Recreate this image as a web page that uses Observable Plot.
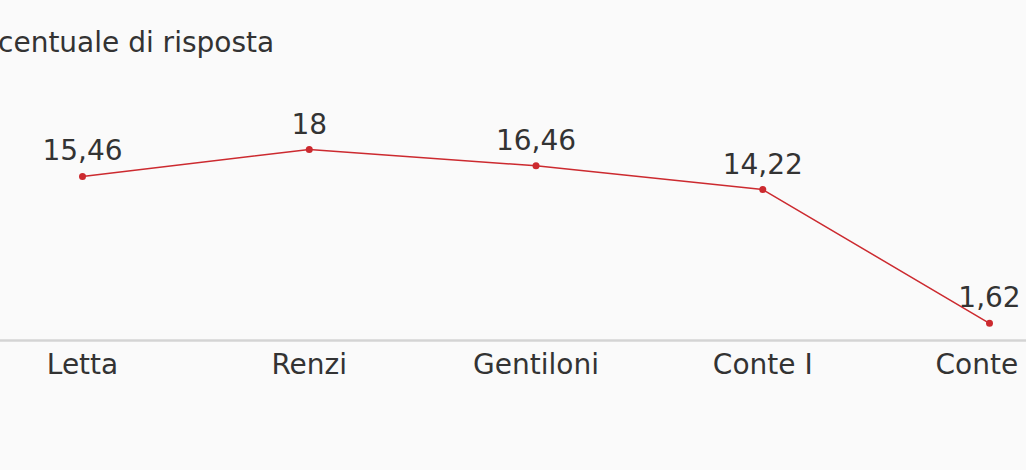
<!DOCTYPE html>
<html>
<head>
<meta charset="utf-8">
<script src="https://cdn.jsdelivr.net/npm/d3@7"></script>
<script src="https://cdn.jsdelivr.net/npm/@observablehq/plot@0.6"></script>
<style>
  html, body { margin: 0; padding: 0; background: #fafafa; overflow: hidden; }
  #wrap { width: 1026px; overflow: hidden; font-family: "DejaVu Sans", sans-serif; color: #333; }
  #title { height: 70px; box-sizing: border-box; padding-top: 29px; font-size: 28px; line-height: 28px; margin-left: -46px; white-space: nowrap; }
</style>
</head>
<body>
<div id="wrap">
  <div id="title">Percentuale di risposta</div>
  <div id="chart"></div>
</div>
<script>
const governi = ["Letta", "Renzi", "Gentiloni", "Conte I", "Conte II"];
const percentuali = [15.46, 18, 16.46, 14.22, 1.62];

const data = governi.map((g, i) => ({governo: g, valore: percentuali[i]}));
const fmt = v => String(v).replace(".", ",");
const red = "#cc2a2f";

const chart = Plot.plot({
  width: 1026,
  height: 400,
  marginLeft: 82,
  marginRight: 37,
  marginTop: 79,
  marginBottom: 130,
  style: {background: "#fafafa", color: "#333", fontFamily: "DejaVu Sans, sans-serif"},
  x: {type: "point", domain: governi, padding: 0, round: false, axis: null},
  y: {domain: [0, 18], axis: null},
  marks: [
    Plot.ruleY([0], {stroke: "#d4d4d4", strokeWidth: 2.5, insetLeft: -82, insetRight: -37}),
    Plot.line(data, {x: "governo", y: "valore", stroke: red, strokeWidth: 1.5}),
    Plot.dot(data, {x: "governo", y: "valore", r: 3.5, fill: red}),
    Plot.text(data, {x: "governo", y: "valore", text: d => fmt(d.valore), dy: -16, lineAnchor: "bottom", textAnchor: "middle", fontSize: 28, fill: "#333"}),
    Plot.text(data, {x: "governo", y: () => 0, text: "governo", dy: 14, lineAnchor: "top", textAnchor: "middle", fontSize: 28, fill: "#333"})
  ]
});
document.getElementById("chart").appendChild(chart);
</script>
</body>
</html>
